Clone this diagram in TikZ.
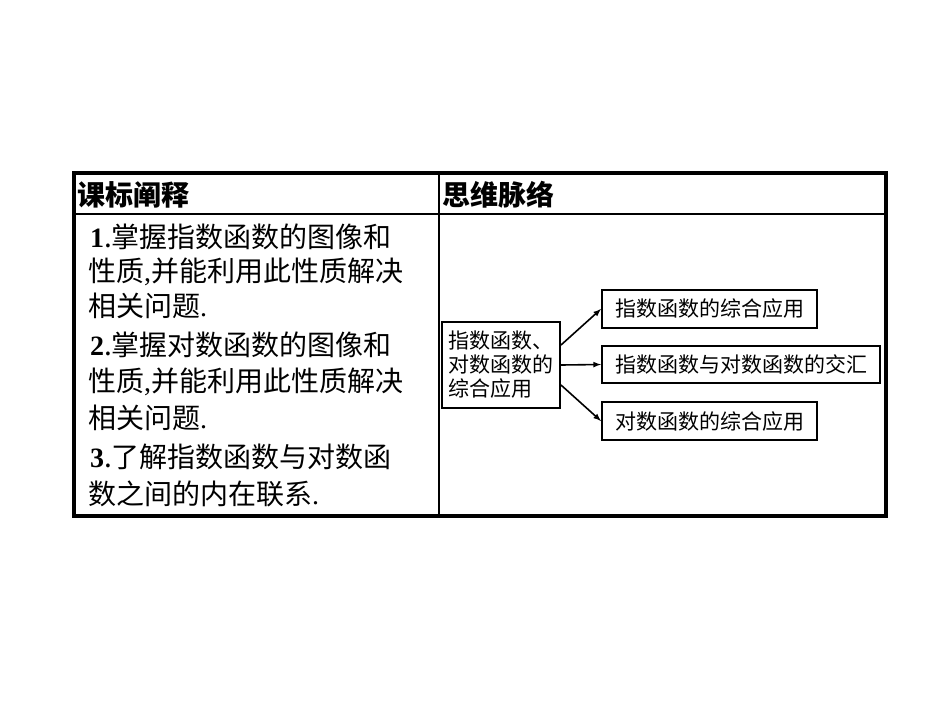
\documentclass[tikz,border=0pt]{standalone}
\usepackage{fontspec}
\setmainfont{Liberation Serif}
\newfontfamily\cjk{Noto Sans CJK SC}
\begin{document}
\begin{tikzpicture}[x=1pt,y=-1pt,
  ln/.style={anchor=west,inner sep=0pt,font=\fontsize{28}{28}\selectfont\cjk},
  hd/.style={anchor=west,inner sep=0pt,font=\fontsize{28}{28}\selectfont\cjk\bfseries},
  bx/.style={draw,line width=2pt,inner sep=0pt,font=\fontsize{21}{24}\selectfont\cjk},
  ar/.style={-latex,line width=1.6pt}]
\useasboundingbox (0,0) rectangle (950,713);
\draw[line width=2pt] (74,214) -- (886,214);
\draw[line width=2pt] (439,173) -- (439,516);
\draw[line width=4pt] (74,173) rectangle (886,516);
\node[hd] (h1) at (77,195) {课标阐释};
\node[hd] (h2) at (442,195) {思维脉络};
\node[ln] (l1) at (90,237) {{\rmfamily\bfseries 1}.掌握指数函数的图像和};
\node[ln] (l2) at (88,272) {性质{\rmfamily,}并能利用此性质解决};
\node[ln] (l3) at (88,306) {相关问题{\rmfamily.}};
\node[ln] (l4) at (90,345) {{\rmfamily\bfseries 2}.掌握对数函数的图像和};
\node[ln] (l5) at (88,382) {性质{\rmfamily,}并能利用此性质解决};
\node[ln] (l6) at (88,418) {相关问题{\rmfamily.}};
\node[ln] (l7) at (90,457) {{\rmfamily\bfseries 3}.了解指数函数与对数函};
\node[ln] (l8) at (88,494) {数之间的内在联系{\rmfamily.}};
\node[bx,minimum width=118pt,minimum height=86pt,align=left] (c) at (501,365) {指数函数、\\对数函数的\\综合应用};
\node[bx,minimum width=215pt,minimum height=38pt] (b1) at (709.5,309) {指数函数的综合应用};
\node[bx,minimum width=278pt,minimum height=37pt] (b2) at (741,364.5) {指数函数与对数函数的交汇};
\node[bx,minimum width=215pt,minimum height=38pt] (b3) at (709.5,421) {对数函数的综合应用};
\draw[ar] (c.east) ++(0,-20) -- (b1.west);
\draw[ar] (c.east) -- (b2.west);
\draw[ar] (c.east) ++(0,20) -- (b3.west);
\end{tikzpicture}
\end{document}
